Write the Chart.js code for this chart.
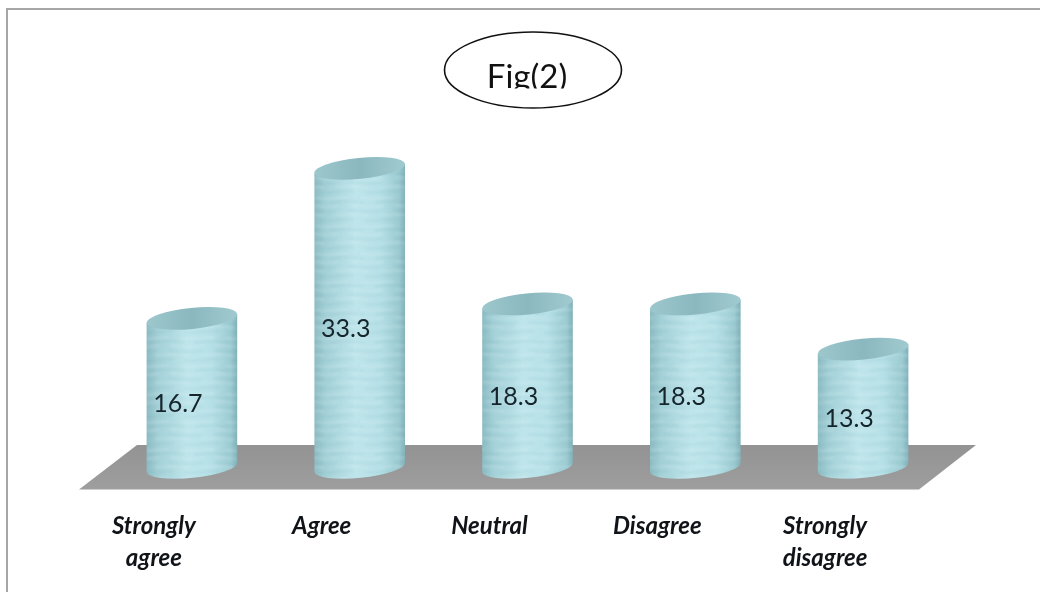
<!DOCTYPE html>
<html>
<head>
<meta charset="utf-8">
<title>Fig(2)</title>
<script src="https://cdn.jsdelivr.net/npm/chart.js@4/dist/chart.umd.min.js"></script>
<style>
  html, body { margin: 0; padding: 0; background: #fff; }
  #wrap { width: 1040px; height: 592px; }
</style>
</head>
<body>
<div id="wrap"><canvas id="chart"></canvas></div>
<script>
const categories = [["Strongly", "agree"], "Agree", "Neutral", "Disagree", ["Strongly", "disagree"]];
const percentages = [16.7, 33.3, 18.3, 18.3, 13.3];
const figureLabel = "Fig(2)";

const TILT = -0.1;        // cylinder ends lean up to the right
const END_RY = 10.5;
const FOOT_LIFT = 2;      // bottom rim sits just above the zero line

// broken wavy streaks laid over the cylinder sides
function makeRipple(ctx) {
  const tile = document.createElement("canvas");
  tile.width = 90;
  tile.height = 28;
  const t = tile.getContext("2d");
  t.filter = "blur(0.8px)";
  const strokes = [
    [2, 0, "rgba(255,255,255,0.22)"],
    [6, 30, "rgba(60,120,130,0.10)"],
    [10, 55, "rgba(255,255,255,0.18)"],
    [15, 12, "rgba(60,120,130,0.09)"],
    [19, 70, "rgba(255,255,255,0.20)"],
    [24, 40, "rgba(60,120,130,0.10)"]
  ];
  strokes.forEach(([y, shift, colour]) => {
    t.strokeStyle = colour;
    t.lineWidth = 1.3;
    t.setLineDash([34, 11]);
    t.lineDashOffset = shift;
    t.beginPath();
    for (let x = 0; x <= 90; x += 2) {
      const yy = y + Math.sin((x / 90) * Math.PI * 4) * 0.6;
      if (x === 0) t.moveTo(x, yy); else t.lineTo(x, yy);
    }
    t.stroke();
  });
  return ctx.createPattern(tile, "repeat");
}

function sideGradient(ctx, left, right) {
  const g = ctx.createLinearGradient(left, 0, right, 0);
  g.addColorStop(0, "#8dbcc3");
  g.addColorStop(0.12, "#a3d0d7");
  g.addColorStop(0.45, "#bee5eb");
  g.addColorStop(0.72, "#b6e0e7");
  g.addColorStop(0.93, "#9ccbd2");
  g.addColorStop(1, "#82b2ba");
  return g;
}

function topGradient(ctx, left, right) {
  const g = ctx.createLinearGradient(left, 0, right, 0);
  g.addColorStop(0, "#9cc7cd");
  g.addColorStop(0.5, "#8ab8be");
  g.addColorStop(1, "#a0cad0");
  return g;
}

const cylinderPlugin = {
  id: "cylinders",
  // grey floor slab under the columns
  beforeDatasetsDraw(chart) {
    const { ctx, chartArea, scales } = chart;
    const base = scales.y.getPixelForValue(0);
    const top = base - 24.4;
    const bottom = base + 20;
    const g = ctx.createLinearGradient(0, top, 0, bottom);
    g.addColorStop(0, "#939393");
    g.addColorStop(1, "#9e9e9e");
    ctx.save();
    ctx.fillStyle = g;
    ctx.beginPath();
    ctx.moveTo(chartArea.left + 29, top);
    ctx.lineTo(chartArea.right + 29, top);
    ctx.lineTo(chartArea.right - 28, bottom);
    ctx.lineTo(chartArea.left - 29, bottom);
    ctx.closePath();
    ctx.fill();
    ctx.restore();
  },
  afterDatasetsDraw(chart) {
    const { ctx } = chart;
    const ripple = makeRipple(ctx);
    const bars = chart.getDatasetMeta(0).data;
    bars.forEach((bar, i) => {
      const half = bar.width / 2;
      const rx = half / Math.cos(TILT);
      const lean = half * Math.tan(TILT);
      const side = new Path2D();
      side.ellipse(bar.x, bar.base - FOOT_LIFT, rx, END_RY, TILT, 0, Math.PI);
      side.lineTo(bar.x - half, bar.y - lean);
      side.lineTo(bar.x + half, bar.y + lean);
      side.closePath();

      ctx.save();
      ctx.fillStyle = sideGradient(ctx, bar.x - half, bar.x + half);
      ctx.fill(side);
      ctx.fillStyle = ripple;
      ctx.fill(side);

      ctx.beginPath();
      ctx.ellipse(bar.x, bar.y, rx, END_RY, TILT, 0, Math.PI * 2);
      ctx.fillStyle = topGradient(ctx, bar.x - half, bar.x + half);
      ctx.fill();
      ctx.restore();

      // value sits a little left of and below the middle of the column
      ctx.save();
      ctx.font = '25px Lato, "Open Sans", sans-serif';
      ctx.fillStyle = "#16242c";
      ctx.textAlign = "center";
      ctx.textBaseline = "middle";
      ctx.fillText(percentages[i].toFixed(1), bar.x - 14, (bar.y + bar.base) / 2 + 10);
      ctx.restore();
    });
  },
  // outer frame and the oval figure caption
  afterDraw(chart) {
    const { ctx } = chart;
    ctx.save();
    ctx.strokeStyle = "#a6a6a6";
    ctx.lineWidth = 2;
    ctx.beginPath();
    ctx.moveTo(7, 592);
    ctx.lineTo(7, 9);
    ctx.lineTo(1040, 9);
    ctx.stroke();

    ctx.strokeStyle = "#111";
    ctx.lineWidth = 1.6;
    ctx.beginPath();
    ctx.ellipse(533, 70, 88.5, 38, 0, 0, Math.PI * 2);
    ctx.stroke();

    ctx.beginPath();
    ctx.rect(450, 50, 170, 38.5);
    ctx.clip();
    ctx.font = '33px Lato, "Open Sans", sans-serif';
    ctx.fillStyle = "#111";
    ctx.textAlign = "center";
    ctx.textBaseline = "alphabetic";
    ctx.fillText(figureLabel, 527, 88);
    ctx.restore();
  }
};

new Chart(document.getElementById("chart"), {
  type: "bar",
  data: {
    labels: categories,
    datasets: [{
      data: percentages,
      backgroundColor: "transparent",
      categoryPercentage: 1,
      barPercentage: 0.54
    }]
  },
  options: {
    responsive: true,
    maintainAspectRatio: false,
    animation: false,
    layout: { padding: { left: 108, right: 93, top: 107.8 } },
    plugins: { legend: { display: false }, tooltip: { enabled: false } },
    scales: {
      x: {
        afterFit(scale) { scale.height = 122.6; },
        grid: { display: false },
        border: { display: false },
        ticks: {
          maxRotation: 0,
          autoSkip: false,
          padding: 33,
          labelOffset: -38,
          color: "#101418",
          font: { family: 'Lato, "Open Sans", sans-serif', size: 24, weight: "bold", style: "italic", lineHeight: 1.33 }
        }
      },
      y: {
        min: 0,
        max: 40,
        display: false
      }
    }
  },
  plugins: [cylinderPlugin]
});
</script>
</body>
</html>
